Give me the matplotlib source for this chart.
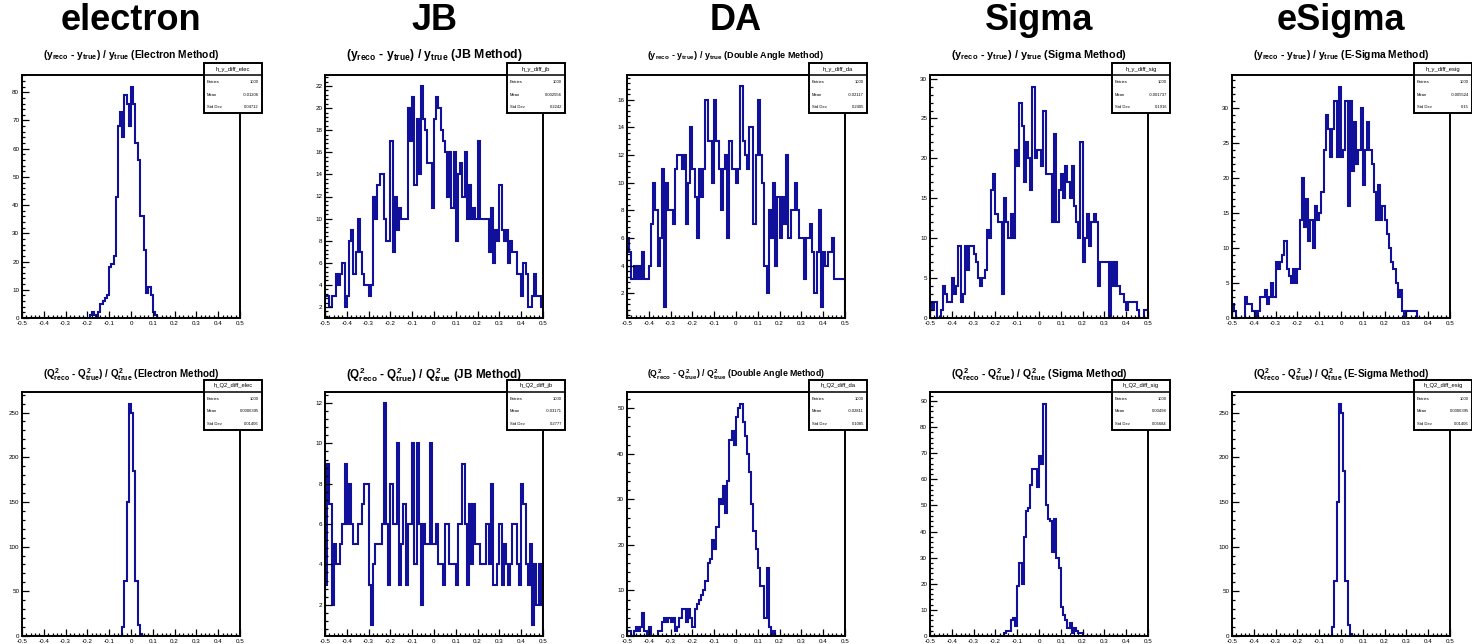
import numpy as np
import matplotlib
matplotlib.use('Agg')
import matplotlib.pyplot as plt
from matplotlib.ticker import MultipleLocator, AutoMinorLocator, FuncFormatter
from matplotlib.patches import Rectangle
from matplotlib.lines import Line2D

plt.rcParams['font.family'] = ['Liberation Sans', 'DejaVu Sans']
plt.rcParams['mathtext.fontset'] = 'custom'
plt.rcParams['mathtext.rm'] = 'Liberation Sans:bold'
plt.rcParams['mathtext.it'] = 'Liberation Sans:bold'

# ---- data: 100 bins from -0.5 to 0.5 ----
methods = ['electron', 'JB', 'DA', 'Sigma', 'eSigma']
method_names = ['Electron Method', 'JB Method', 'Double Angle Method',
                'Sigma Method', 'E-Sigma Method']
hist_tags = ['elec', 'jb', 'da', 'sig', 'esig']

y_elec = [0, 0, 0, 0, 0, 0, 0, 0, 0, 0,
          0, 0, 0, 0, 0, 0, 0, 0, 0, 0,
          0, 0, 0, 0, 0, 0, 0, 0, 0, 0,
          0, 1, 2, 1, 0, 2, 5, 6, 7, 8,
          18, 19, 22, 43, 68, 73, 64, 79, 76, 68,
          82, 76, 62, 56, 36, 36, 24, 9, 11, 8,
          2, 1, 0, 0, 0, 0, 0, 0, 0, 0,
          0, 0, 0, 0, 0, 0, 0, 0, 0, 0,
          0, 0, 0, 0, 0, 0, 0, 0, 0, 0,
          0, 0, 0, 0, 0, 0, 0, 0, 0, 0]
y_jb = [3, 3, 2, 3, 3, 5, 4, 5, 6, 2,
        3, 8, 9, 5, 7, 10, 7, 5, 4, 4,
        3, 4, 12, 10, 13, 14, 14, 10, 8, 8,
        17, 7, 12, 9, 11, 10, 10, 10, 20, 17,
        21, 13, 19, 14, 22, 19, 18, 15, 15, 11,
        19, 21, 20, 18, 17, 16, 12, 16, 11, 16,
        8, 14, 15, 12, 16, 10, 13, 10, 11, 10,
        17, 10, 10, 10, 10, 7, 11, 6, 9, 8,
        13, 9, 8, 9, 6, 8, 7, 7, 5, 5,
        3, 6, 5, 2, 2, 3, 5, 3, 3, 2]
y_da = [6, 5, 3, 4, 3, 4, 3, 5, 3, 3,
        4, 7, 10, 8, 4, 6, 11, 1, 10, 8,
        8, 7, 11, 12, 12, 11, 12, 7, 10, 14,
        11, 9, 6, 11, 9, 11, 16, 13, 13, 10,
        16, 13, 11, 8, 11, 12, 6, 13, 11, 11,
        10, 11, 17, 13, 12, 11, 14, 14, 7, 12,
        16, 12, 10, 4, 2, 8, 6, 10, 4, 9,
        6, 9, 7, 12, 6, 8, 8, 10, 8, 6,
        6, 3, 6, 6, 7, 5, 2, 5, 8, 1,
        5, 4, 5, 5, 6, 3, 3, 3, 3, 3]
y_sig = [2, 1, 2, 0, 0, 1, 4, 3, 2, 2,
         5, 3, 4, 9, 2, 3, 9, 6, 9, 9,
         8, 7, 5, 4, 5, 6, 11, 10, 16, 18,
         13, 12, 12, 3, 15, 12, 10, 13, 10, 21,
         19, 27, 24, 17, 22, 20, 16, 29, 20, 21,
         21, 19, 26, 18, 18, 18, 12, 23, 12, 16,
         18, 15, 19, 17, 15, 19, 14, 12, 10, 22,
         7, 10, 13, 9, 12, 13, 12, 4, 7, 7,
         7, 7, 0, 7, 4, 7, 4, 3, 3, 2,
         1, 2, 2, 2, 2, 1, 0, 0, 1, 1]
y_esig = [2, 1, 0, 0, 0, 0, 3, 2, 2, 1,
          1, 0, 1, 3, 3, 4, 2, 3, 5, 3,
          8, 7, 8, 9, 11, 7, 6, 5, 7, 5,
          7, 14, 20, 13, 17, 11, 14, 10, 16, 14,
          15, 18, 24, 29, 27, 23, 27, 31, 23, 33,
          23, 24, 31, 16, 31, 21, 28, 22, 24, 30,
          19, 24, 28, 24, 22, 18, 14, 19, 14, 16,
          14, 12, 10, 8, 7, 5, 3, 4, 1, 0,
          1, 1, 1, 1, 1, 0, 0, 0, 0, 0,
          0, 0, 0, 0, 0, 0, 0, 0, 0, 0]

q2_elec = [0, 0, 0, 0, 0, 0, 0, 0, 0, 0,
           0, 0, 0, 0, 0, 0, 0, 0, 0, 0,
           0, 0, 0, 0, 0, 0, 0, 0, 0, 0,
           0, 0, 0, 0, 0, 0, 0, 0, 0, 0,
           0, 0, 0, 0, 0, 0, 10, 62, 150, 260,
           250, 185, 62, 12, 2, 0, 0, 0, 0, 0,
           0, 0, 0, 0, 0, 0, 0, 0, 0, 0,
           0, 0, 0, 0, 0, 0, 0, 0, 0, 0,
           0, 0, 0, 0, 0, 0, 0, 0, 0, 0,
           0, 0, 0, 0, 0, 0, 0, 0, 0, 0]
q2_jb = [3, 9, 7, 2, 5, 4, 4, 5, 6, 9,
         6, 8, 6, 5, 5, 6, 6, 7, 8, 8,
         3, 1, 4, 5, 5, 5, 6, 12, 6, 3,
         8, 6, 6, 10, 3, 5, 7, 3, 6, 6,
         10, 4, 10, 6, 2, 6, 5, 5, 10, 5,
         5, 6, 4, 4, 3, 6, 6, 4, 4, 4,
         3, 6, 6, 9, 6, 3, 7, 4, 7, 5,
         5, 4, 4, 4, 6, 4, 8, 3, 3, 4,
         6, 3, 5, 4, 3, 4, 6, 6, 4, 3,
         8, 7, 4, 3, 5, 1, 4, 2, 4, 2]
q2_da = [1, 1, 0, 1, 2, 1, 2, 5, 1, 0,
         2, 0, 0, 0, 1, 1, 3, 4, 3, 4,
         3, 4, 1, 2, 4, 6, 6, 3, 6, 4,
         2, 6, 7, 8, 9, 10, 12, 16, 17, 21,
         19, 24, 30, 29, 33, 27, 34, 43, 45, 42,
         48, 50, 51, 47, 44, 40, 36, 29, 23, 19,
         15, 11, 11, 4, 15, 2, 0, 1, 0, 0,
         0, 0, 0, 0, 0, 0, 0, 0, 0, 0,
         0, 0, 0, 0, 0, 0, 0, 0, 0, 0,
         0, 0, 0, 0, 0, 0, 0, 0, 0, 0]
q2_sig = [0, 0, 0, 0, 0, 0, 0, 0, 0, 0,
          0, 0, 0, 0, 0, 0, 0, 0, 0, 0,
          0, 0, 0, 0, 0, 0, 0, 0, 0, 0,
          0, 0, 0, 0, 1, 2, 2, 6, 7, 4,
          19, 28, 20, 38, 48, 49, 58, 64, 64, 57,
          69, 66, 89, 50, 45, 44, 32, 45, 30, 26,
          11, 8, 6, 3, 5, 1, 3, 2, 1, 1,
          0, 0, 0, 0, 0, 0, 0, 0, 0, 0,
          0, 0, 0, 0, 0, 0, 0, 0, 0, 0,
          0, 0, 0, 0, 0, 0, 0, 0, 0, 0]
q2_esig = [0, 0, 0, 0, 0, 0, 0, 0, 0, 0,
           0, 0, 0, 0, 0, 0, 0, 0, 0, 0,
           0, 0, 0, 0, 0, 0, 0, 0, 0, 0,
           0, 0, 0, 0, 0, 0, 0, 0, 0, 0,
           0, 0, 0, 0, 0, 0, 10, 62, 150, 260,
           250, 185, 62, 12, 2, 0, 0, 0, 0, 0,
           0, 0, 0, 0, 0, 0, 0, 0, 0, 0,
           0, 0, 0, 0, 0, 0, 0, 0, 0, 0,
           0, 0, 0, 0, 0, 0, 0, 0, 0, 0,
           0, 0, 0, 0, 0, 0, 0, 0, 0, 0]

y_hists = [y_elec, y_jb, y_da, y_sig, y_esig]
q2_hists = [q2_elec, q2_jb, q2_da, q2_sig, q2_esig]
y_steps = [10, 2, 2, 5, 5]
q2_steps = [50, 2, 10, 10, 50]

W, H = 1472, 644
col_left = [22, 325, 627, 930, 1232]
frame_w = 218
rows = [(75, 318), (392, 636)]
title_y = [55, 375]
line_col = '#10109a'
edges = np.linspace(-0.5, 0.5, 101)
centers = 0.5 * (edges[:-1] + edges[1:])

fig = plt.figure(figsize=(W / 100, H / 100), dpi=100)


def fx(x):
    return x / W


def fy(y):
    return 1 - y / H


def xfmt(v, pos):
    if abs(v) < 1e-9:
        return '0'
    return '%.1f' % v


def draw_panel(col, row, vals, ystep, title, hname):
    x0 = col_left[col]
    x1 = x0 + frame_w
    top, bot = rows[row]
    ax = fig.add_axes([fx(x0), fy(bot), fx(frame_w), (bot - top) / H])
    vals = np.array(vals, dtype=float)
    ax.stairs(vals, edges, color=line_col, lw=1.5)

    # ROOT-like y range
    vmin, vmax = vals.min(), vals.max()
    if vmin <= 0:
        lo, hi = 0, 1.05 * vmax
    else:
        lo, hi = vmin - 0.05 * (vmax - vmin), vmax + 0.05 * (vmax - vmin)
    ax.set_xlim(-0.5, 0.5)
    ax.set_ylim(lo, hi)

    ax.xaxis.set_major_locator(MultipleLocator(0.1))
    ax.xaxis.set_minor_locator(MultipleLocator(0.02))
    ax.xaxis.set_major_formatter(FuncFormatter(xfmt))
    ax.yaxis.set_major_locator(MultipleLocator(ystep))
    ax.yaxis.set_minor_locator(AutoMinorLocator(5))
    ax.tick_params(which='both', direction='in', top=False, right=False,
                   labelsize=4.5, width=0.9, pad=2)
    ax.tick_params(which='major', length=5)
    ax.tick_params(which='minor', length=2.5)
    for sp in ax.spines.values():
        sp.set_linewidth(1.4)

    # title, scaled to a fixed width like ROOT does
    t = fig.text(fx((x0 + x1) / 2), fy(title_y[row]), title,
                 ha='center', va='center', fontsize=6, weight='bold')
    fig.canvas.draw()
    w = t.get_window_extent().width
    t.set_fontsize(6 * 178 / w)

    # stats box
    bx0, bx1 = x1 - 36, x1 + 22
    by0, by1 = top - 12, top + 38
    fig.add_artist(Rectangle((fx(bx0), fy(by1)), fx(bx1 - bx0), (by1 - by0) / H,
                             transform=fig.transFigure, facecolor='white',
                             edgecolor='black', lw=1.4, zorder=10))
    fig.add_artist(Line2D([fx(bx0), fx(bx1)], [fy(top), fy(top)],
                          transform=fig.transFigure, color='black', lw=1.1,
                          zorder=11))
    fig.text(fx((bx0 + bx1) / 2), fy(by0 + 6), hname, ha='center', va='center',
             fontsize=4.2, zorder=12)
    n = vals.sum()
    mean = (vals * centers).sum() / n
    std = np.sqrt((vals * (centers - mean) ** 2).sum() / n)
    rows_txt = [('Entries', '%d' % 1000), ('Mean', '%.4g' % mean),
                ('Std Dev', '%.4g' % std)]
    for k, (lab, val) in enumerate(rows_txt):
        yy = top + 7 + k * 12.5
        fig.text(fx(bx0 + 3), fy(yy), lab, ha='left', va='center',
                 fontsize=3, zorder=12)
        fig.text(fx(bx1 - 3), fy(yy), val, ha='right', va='center',
                 fontsize=3, zorder=12)


for i in range(5):
    cx = col_left[i] + frame_w / 2
    fig.text(fx(cx), fy(20), methods[i], ha='center', va='center',
             fontsize=26, weight='bold')
    draw_panel(i, 0, y_hists[i], y_steps[i],
               r'$(y_{reco}$ - $y_{true})$ / $y_{true}$ (%s)' % method_names[i],
               'h_y_diff_' + hist_tags[i])
    draw_panel(i, 1, q2_hists[i], q2_steps[i],
               r'$(Q^{2}_{reco}$ - $Q^{2}_{true})$ / $Q^{2}_{true}$ (%s)' % method_names[i],
               'h_Q2_diff_' + hist_tags[i])

fig.savefig('out.png', dpi=100)
